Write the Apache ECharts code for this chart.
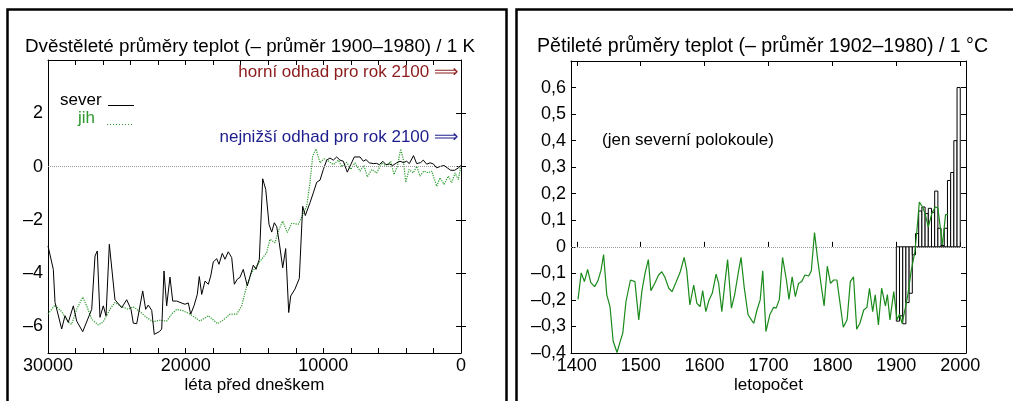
<!DOCTYPE html>
<html>
<head>
<meta charset="utf-8">
<script src="https://cdn.jsdelivr.net/npm/echarts@6.0.0/dist/echarts.min.js"></script>
<style>
  html, body { margin: 0; padding: 0; background: #fff; }
  #chart { width: 1013px; height: 401px; }
</style>
</head>
<body>
<div id="chart"></div>
<script>
// levý graf: dvěstěleté průměry, roky před dneškem
const severYears = [30000, 29615, 29490, 29005, 28765, 28525, 28160, 27915, 27480, 26825,
  26585, 26420, 26225, 25985, 25785, 25545, 25135, 24645, 24285, 23970,
  23805, 23555, 23120, 22905, 22715, 22465, 22280, 21915, 21740, 21575,
  21380, 21140, 20940, 20650, 20410, 20050, 19810, 19635, 19395, 19155,
  19010, 18835, 18595, 18355, 18180, 17995, 17745, 17580, 17340, 17145,
  16905, 16655, 16465, 16250, 16055, 15815, 15525, 15085, 14890, 14650,
  14405, 14185, 13945, 13750, 13560, 13385, 13200, 12950, 12735, 12515,
  12370, 12060, 11745, 11500, 11310, 10970, 10730, 10480, 10240, 10000,
  9755, 9515, 9275, 9030, 8790, 8550, 8260, 8065, 7750, 7335,
  7095, 6900, 6660, 6370, 6125, 5935, 5685, 5450, 5210, 4960,
  4670, 4430, 4190, 3945, 3755, 3450, 3220, 2930, 2740, 2490,
  2250, 2015, 1765, 1525, 1235, 995, 750, 460, 195, 0]
const severTemp = [-2.98, -3.86, -5.1, -6.1, -5.6, -5.85, -5.23, -5.8, -6.2, -5.36,
  -3.36, -3.17, -5.66, -5.23, -5.6, -2.92, -5.0, -5.3, -5.0, -5.36,
  -5.88, -5.9, -4.67, -5.36, -5.2, -5.4, -6.3, -6.2, -6.1, -3.92,
  -5.23, -4.15, -5.05, -5.05, -5.1, -5.17, -5.12, -5.54, -5.23, -4.8,
  -4.13, -4.8, -4.3, -4.42, -4.11, -3.58, -3.46, -3.67, -3.26, -3.48,
  -3.2, -3.42, -4.42, -4.23, -4.16, -3.86, -4.48, -3.7, -3.86, -3.48,
  -0.46, -0.86, -2.17, -2.46, -2.11, -2.26, -2.86, -3.8, -3.08, -5.48,
  -4.86, -4.6, -4.2, -1.49, -1.84, -1.36, -0.99, -0.59, -0.51, -0.11,
  0.24, 0.32, 0.24, 0.36, 0.24, 0.2, -0.21, 0.01, 0.36, 0.36,
  0.2, 0.26, 0.14, 0.11, 0.12, 0.07, 0.2, 0.07, 0.1, 0.04,
  0.14, 0.2, 0.15, 0.2, 0.11, 0.41, 0.11, 0.15, 0.24, 0.09,
  0.14, 0.1, -0.05, 0.0, 0.04, -0.05, -0.14, -0.14, -0.05, 0.04]

const jihYears = [30000, 29490, 29005, 28525, 28280, 27915, 27480, 27190, 26825, 26345,
  25985, 25500, 25135, 24645, 24165, 23805, 23315, 22830, 22350, 21915,
  21380, 21015, 20650, 20170, 19685, 19320, 18960, 18355, 17995, 17700,
  17265, 16780, 16290, 15930, 15565, 15205, 14840, 14480, 14115, 13875,
  13510, 13270, 12950, 12615, 12295, 11815, 11205, 10970, 10775,
  10535, 10240, 9950, 9610, 9275, 8910, 8665, 8300, 8010, 7700,
  7335, 7045, 6805, 6485, 6125, 5760, 5395, 5105, 4865, 4625,
  4380, 4190, 4015, 3775, 3465, 3220, 2980, 2690, 2375, 2130,
  1765, 1525, 1235, 925, 675, 435, 195, 20]
const jihTemp = [-5.54, -5.2, -5.45, -5.85, -5.92, -5.36, -4.9, -5.23, -5.73, -5.95,
  -5.83, -5.36, -5.1, -5.26, -5.36, -5.26, -5.45, -5.67, -5.83, -5.77,
  -5.8, -5.54, -5.36, -5.42, -5.54, -5.67, -5.8, -5.6, -5.76, -5.9,
  -5.76, -5.54, -5.54, -5.23, -4.48, -3.98, -3.73, -3.48, -3.23, -2.73,
  -2.86, -2.42, -2.05, -2.48, -2.13, -2.17, -1.49, -0.61, 0.39,
  0.66, 0.14, 0.29, 0.2, 0.07, 0.24, 0.0, 0.16, -0.11, 0.14,
  -0.17, 0.04, -0.39, -0.11, -0.24, 0.14, 0.01, 0.2, -0.3, 0.01,
  0.66, 0.26, -0.59, -0.11, -0.24, 0.01, -0.36, -0.17, -0.24, -0.17,
  -0.74, -0.42, -0.67, -0.36, -0.61, -0.24, -0.49, 0.01]

// pravý graf: pětileté průměry, severní polokoule
const nhYears = [1402, 1407, 1412, 1417, 1422, 1428, 1433, 1438, 1442, 1447,
  1452, 1457, 1463, 1468, 1472, 1477, 1484, 1491, 1497, 1502,
  1507, 1512, 1516, 1522, 1528, 1533, 1538, 1544, 1549, 1555,
  1562, 1568, 1572, 1577, 1583, 1588, 1593, 1597, 1602, 1607,
  1612, 1618, 1622, 1627, 1632, 1636, 1642, 1647, 1653, 1657,
  1662, 1668, 1674, 1677, 1682, 1687, 1691, 1696, 1702, 1708,
  1712, 1717, 1722, 1728, 1732, 1737, 1742, 1747, 1752, 1757,
  1763, 1767, 1772, 1777, 1782, 1787, 1792, 1797, 1802, 1807,
  1812, 1817, 1823, 1828, 1833, 1838, 1843, 1849, 1854, 1858,
  1863, 1867, 1872, 1877, 1883, 1886, 1890, 1896, 1901, 1905,
  1909, 1914, 1918, 1923, 1929, 1932, 1936, 1941, 1945, 1950,
  1956, 1961, 1965, 1969, 1972, 1977, 1981]
const nhTemp = [-0.198, -0.098, -0.131, -0.085, -0.135, -0.15, -0.129, -0.088, -0.029, -0.181,
  -0.225, -0.356, -0.398, -0.356, -0.325, -0.206, -0.125, -0.131, -0.275, -0.165,
  -0.098, -0.048, -0.165, -0.138, -0.106, -0.094, -0.115, -0.156, -0.169, -0.135,
  -0.094, -0.04, -0.088, -0.219, -0.144, -0.213, -0.225, -0.165, -0.244, -0.2,
  -0.175, -0.103, -0.138, -0.244, -0.131, -0.048, -0.231, -0.181, -0.094, -0.04,
  -0.153, -0.256, -0.278, -0.288, -0.238, -0.2, -0.09, -0.319, -0.256, -0.228,
  -0.231, -0.198, -0.04, -0.125, -0.198, -0.113, -0.188, -0.138, -0.131, -0.106,
  -0.11, -0.09, 0.054, -0.05, -0.138, -0.223, -0.073, -0.138, -0.125, -0.125,
  -0.213, -0.303, -0.275, -0.131, -0.113, -0.31, -0.288, -0.238, -0.228, -0.156,
  -0.244, -0.181, -0.294, -0.156, -0.223, -0.18, -0.275, -0.169, -0.275, -0.254,
  -0.288, -0.231, -0.181, -0.094, -0.019, 0.056, 0.169, 0.15, 0.125, 0.075,
  0.129, 0.15, 0.146, 0.069, 0.006, 0.121, 0.121]

// sloupce: pětiletí od 1900
const barYears = [1900, 1905, 1910, 1915, 1920, 1925, 1930, 1935, 1940, 1945,
  1950, 1955, 1960, 1965, 1970, 1975, 1980, 1985, 1990, 1995]
const barTemp = [-0.28, -0.26, -0.29, -0.21, -0.175, -0.03, 0.05, 0.135, 0.15, 0.125,
  0.145, 0.13, 0.21, 0.07, 0.005, 0.07, 0.25, 0.28, 0.40, 0.60]

// rozsahy os a popisky
const leftX = { min: 0, max: 30000, tick: 2000, label: 10000 }
const leftY = { min: -7, max: 4, tickMin: -6, tickMax: 2, tick: 2 }
const rightX = { min: 1391, max: 2009, tickMin: 1400, tickMax: 2000, tick: 100 }
const rightY = { min: -0.4, max: 0.7, tick: 0.1, labelMax: 0.6 }

const FONT = "'Liberation Sans', Arial, Helvetica, sans-serif"
const zip = (a, b) => a.map((v, i) => [v, b[i]])
const dash = (s) => s.replace('-', '–')

// plocha grafů v pixelech
const L = { left: 48, top: 60, width: 413, height: 293 }
const R = { left: 571, top: 61, width: 395, height: 292 }
// pomocné plochy jen pro značky, aby osa začínala na násobku kroku
const Ly = Object.assign({}, L, {
  top: L.top + (leftY.max - leftY.tickMax) / (leftY.max - leftY.min) * L.height,
  height: (leftY.tickMax - leftY.tickMin) / (leftY.max - leftY.min) * L.height,
})
const Rx = Object.assign({}, R, {
  left: R.left + (rightX.tickMin - rightX.min) / (rightX.max - rightX.min) * R.width,
  width: (rightX.tickMax - rightX.tickMin) / (rightX.max - rightX.min) * R.width,
})

const line = { show: true, onZero: false, lineStyle: { color: '#000', width: 1 } }
const tick = { show: true, inside: true, length: 5, lineStyle: { color: '#000', width: 1 } }
const label = { color: '#000', fontSize: 18, fontFamily: FONT }
const nameStyle = { color: '#000', fontSize: 17, fontFamily: FONT }
const ax = (o) => Object.assign({ type: 'value', splitLine: { show: false }, axisLine: { show: false }, axisTick: { show: false }, axisLabel: { show: false } }, o)

const zeroLine = {
  silent: true,
  symbol: 'none',
  label: { show: false },
  lineStyle: { color: '#999', type: 'dotted', width: 1 },
  data: [{ yAxis: 0 }],
}

const chart = echarts.init(document.getElementById('chart'), null, { renderer: 'canvas' })
chart.setOption({
  animation: false,
  backgroundColor: '#fff',
  textStyle: { fontFamily: FONT },
  grid: [L, Ly, R, Rx],
  xAxis: [
    // 0, 1: levý graf dole a nahoře
    ax({ gridIndex: 0, position: 'bottom', min: leftX.min, max: leftX.max, interval: leftX.tick, inverse: true,
      axisLine: line, axisTick: tick,
      axisLabel: Object.assign({}, label, { margin: 4, formatter: (v) => (v % leftX.label === 0 ? String(v) : '') }),
      name: 'léta před dneškem', nameLocation: 'middle', nameGap: 24, nameMoveOverlap: false, nameTextStyle: nameStyle }),
    ax({ gridIndex: 0, position: 'top', min: leftX.min, max: leftX.max, interval: leftX.tick, inverse: true,
      axisLine: line, axisTick: tick }),
    // 2: skrytá osa pomocné plochy
    ax({ gridIndex: 1, show: false, min: leftX.min, max: leftX.max, inverse: true }),
    // 3, 4: pravý graf, rámeček
    ax({ gridIndex: 2, position: 'bottom', min: rightX.min, max: rightX.max, axisLine: line,
      name: 'letopočet', nameLocation: 'middle', nameGap: 24, nameMoveOverlap: false, nameTextStyle: nameStyle }),
    ax({ gridIndex: 2, position: 'top', min: rightX.min, max: rightX.max, axisLine: line }),
    // 5, 6: pravý graf, značky a popisky po sto letech
    ax({ gridIndex: 3, position: 'bottom', min: rightX.tickMin, max: rightX.tickMax, interval: rightX.tick,
      axisTick: tick, axisLabel: Object.assign({}, label, { margin: 4, formatter: (v) => String(v) }) }),
    ax({ gridIndex: 3, position: 'top', min: rightX.tickMin, max: rightX.tickMax, interval: rightX.tick, axisTick: tick }),
  ],
  yAxis: [
    // 0, 1: levý graf, rámeček
    ax({ gridIndex: 0, position: 'left', min: leftY.min, max: leftY.max, axisLine: line }),
    ax({ gridIndex: 0, position: 'right', min: leftY.min, max: leftY.max, axisLine: line }),
    // 2, 3: levý graf, značky po dvou
    ax({ gridIndex: 1, position: 'left', min: leftY.tickMin, max: leftY.tickMax, interval: leftY.tick,
      axisTick: tick, axisLabel: Object.assign({}, label, { margin: 5, formatter: (v) => dash(String(v)) }) }),
    ax({ gridIndex: 1, position: 'right', min: leftY.tickMin, max: leftY.tickMax, interval: leftY.tick, axisTick: tick }),
    // 4, 5: pravý graf
    ax({ gridIndex: 2, position: 'left', min: rightY.min, max: rightY.max, interval: rightY.tick,
      axisLine: line, axisTick: tick,
      axisLabel: Object.assign({}, label, { margin: 5, formatter: (v) => (v > rightY.labelMax + 1e-9 ? '' : Math.abs(v) < 1e-9 ? '0' : dash(v.toFixed(1)).replace('.', ',')) }) }),
    ax({ gridIndex: 2, position: 'right', min: rightY.min, max: rightY.max, interval: rightY.tick, axisLine: line, axisTick: tick }),
    // 6: skrytá osa pomocné plochy
    ax({ gridIndex: 3, show: false, min: rightY.min, max: rightY.max }),
  ],
  series: [
    {
      name: 'sever', type: 'line', xAxisIndex: 0, yAxisIndex: 0,
      data: zip(severYears, severTemp), showSymbol: false, z: 4,
      lineStyle: { color: '#000', width: 1 },
      markLine: zeroLine,
    },
    {
      name: 'jih', type: 'line', xAxisIndex: 0, yAxisIndex: 0,
      data: zip(jihYears, jihTemp), showSymbol: false, z: 3,
      lineStyle: { color: '#2a9a2a', width: 1.2, type: 'dotted' },
    },
    {
      name: 'pětiletí', type: 'custom', xAxisIndex: 3, yAxisIndex: 4, z: 6,
      data: zip(barYears, barTemp),
      renderItem: (params, api) => {
        const p0 = api.coord([api.value(0), 0])
        const p1 = api.coord([api.value(0) + 5, api.value(1)])
        return {
          type: 'rect',
          shape: { x: p0[0], y: Math.min(p0[1], p1[1]), width: p1[0] - p0[0], height: Math.abs(p1[1] - p0[1]) },
          style: { fill: '#fff', stroke: '#000', lineWidth: 1 },
        }
      },
      markLine: Object.assign({}, zeroLine, { z: 1 }),
    },
    {
      name: 'severní polokoule', type: 'line', xAxisIndex: 3, yAxisIndex: 4,
      data: zip(nhYears, nhTemp), showSymbol: false, z: 7,
      lineStyle: { color: '#1a8a1a', width: 1.2 },
    },
  ],
  graphic: [
    // rámečky panelů
    { type: 'rect', shape: { x: 7.5, y: 9.5, width: 499, height: 420 }, style: { fill: 'none', stroke: '#000', lineWidth: 2.5 }, silent: true },
    { type: 'rect', shape: { x: 516.5, y: 9.5, width: 520, height: 420 }, style: { fill: 'none', stroke: '#000', lineWidth: 2.5 }, silent: true },
    // nadpisy
    { type: 'text', x: 25, y: 47, style: { text: 'Dvěstěleté průměry teplot (– průměr 1900–1980) / 1 K', font: '18.8px ' + FONT, fill: '#000', verticalAlign: 'middle' } },
    { type: 'text', x: 537, y: 47, style: { text: 'Pětileté průměry teplot (– průměr 1902–1980) / 1 °C', font: '19.6px ' + FONT, fill: '#000', verticalAlign: 'middle' } },
    // odhady
    { type: 'text', x: 458, y: 72, style: { text: 'horní odhad pro rok 2100 ⟹', font: '17px ' + FONT, fill: '#8b1a1a', align: 'right', verticalAlign: 'middle' } },
    { type: 'text', x: 458, y: 137, style: { text: 'nejnižší odhad pro rok 2100 ⟹', font: '17px ' + FONT, fill: '#1c1c8c', align: 'right', verticalAlign: 'middle' } },
    // legenda
    { type: 'text', x: 60, y: 100, style: { text: 'sever', font: '17px ' + FONT, fill: '#000', verticalAlign: 'middle' } },
    { type: 'line', shape: { x1: 108, y1: 105.5, x2: 134, y2: 105.5 }, style: { stroke: '#000', lineWidth: 1 } },
    { type: 'text', x: 78, y: 118, style: { text: 'jih', font: '17px ' + FONT, fill: '#2a9a2a', verticalAlign: 'middle' } },
    { type: 'line', shape: { x1: 107, y1: 124.5, x2: 133, y2: 124.5 }, style: { stroke: '#2a9a2a', lineWidth: 1.2, lineDash: [1, 2] } },
    { type: 'text', x: 602, y: 140, style: { text: '(jen severní polokoule)', font: '17px ' + FONT, fill: '#000', verticalAlign: 'middle' } },
  ],
})
</script>
</body>
</html>
